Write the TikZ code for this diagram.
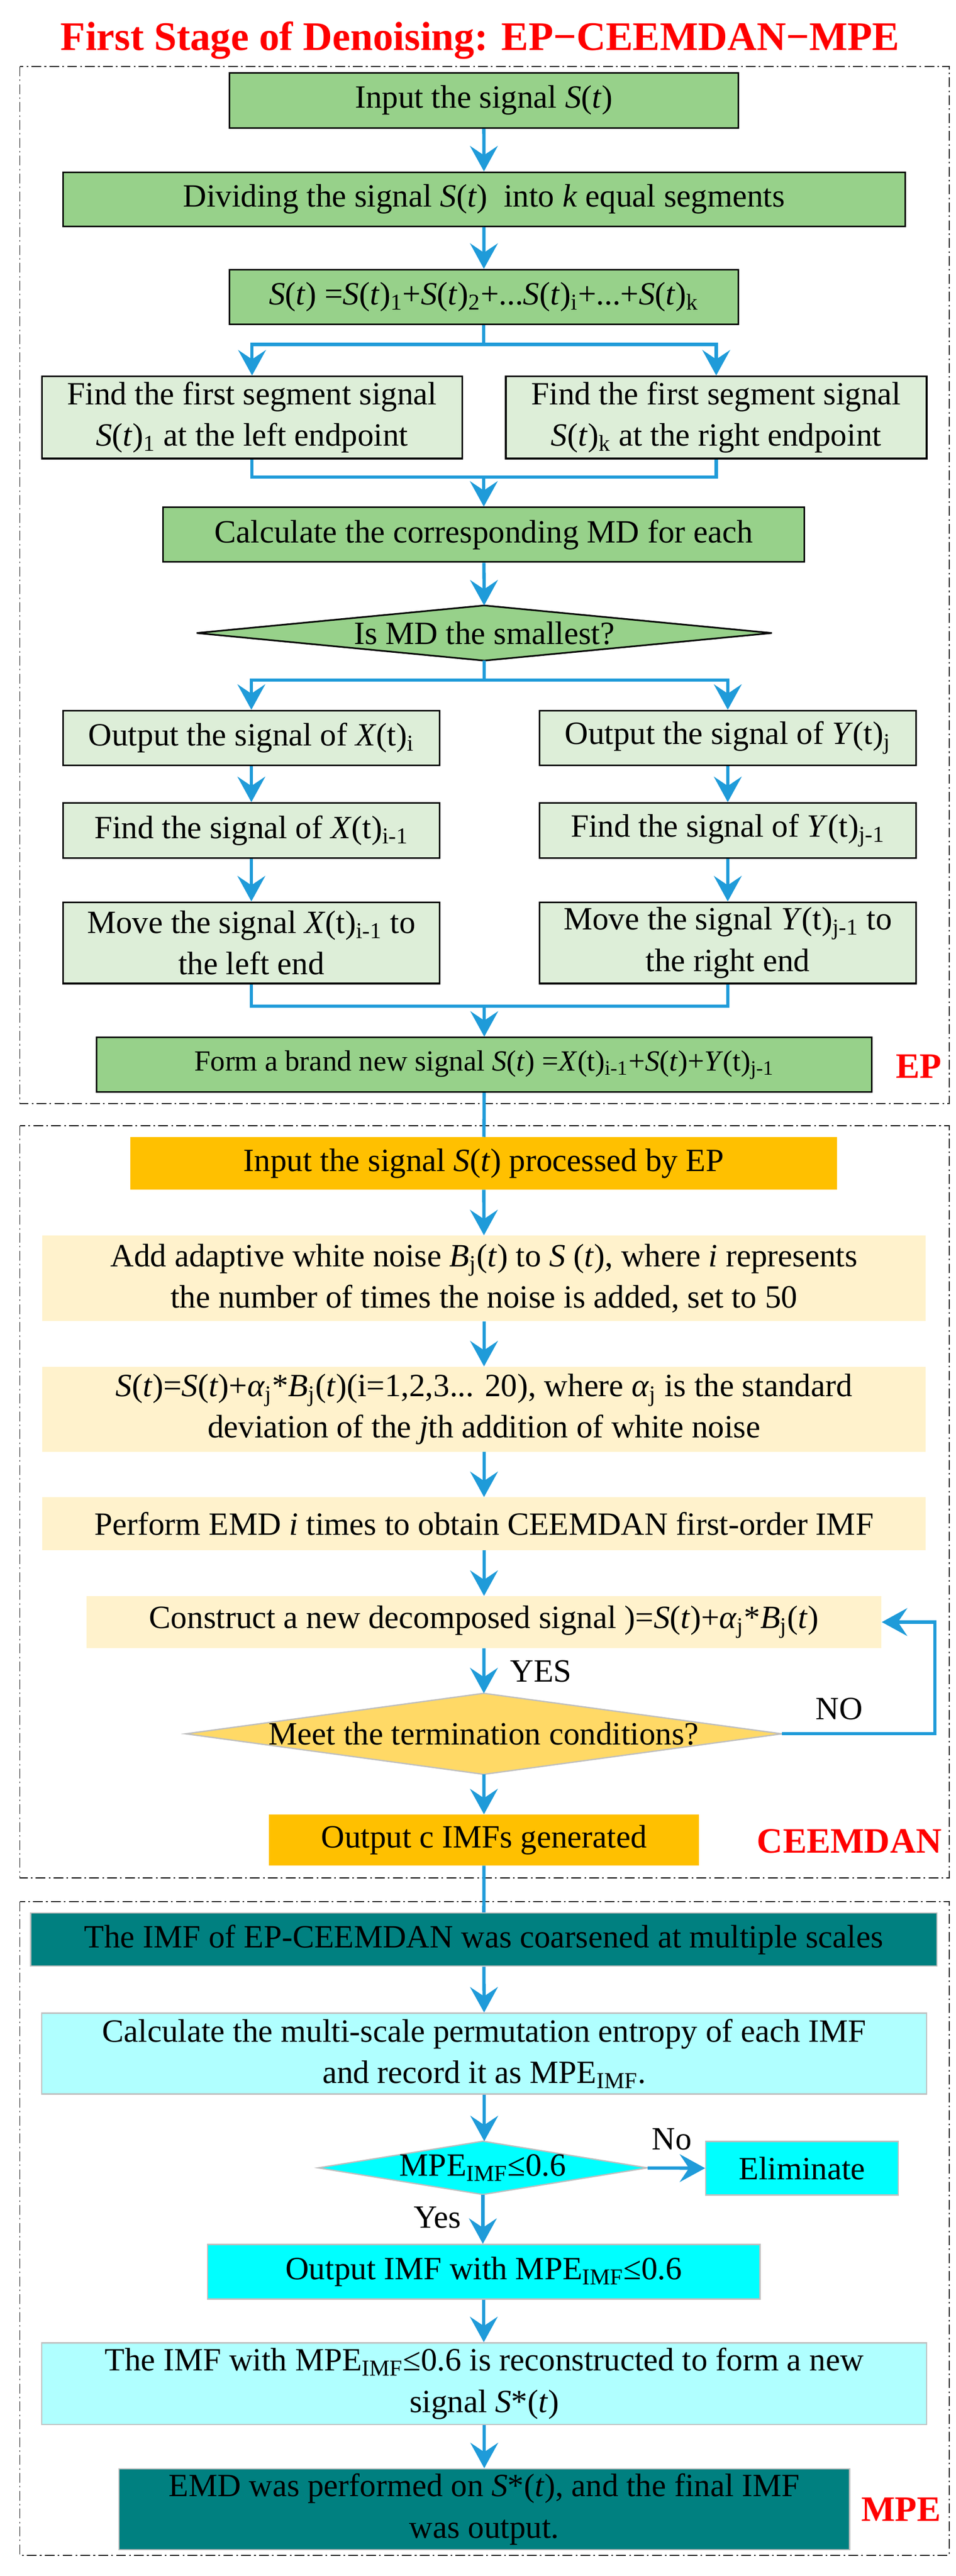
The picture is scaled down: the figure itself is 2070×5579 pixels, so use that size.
\documentclass[tikz,border=0pt]{standalone}
\usepackage{fontspec}
\setmainfont{Liberation Serif}
\usetikzlibrary{shapes.geometric,arrows.meta,backgrounds}
\newcommand\mySt{\textit{S}(\textit{t})}
\newcommand\sbs[1]{\textsubscript{#1}}
\definecolor{gA}{HTML}{97D18A}
\definecolor{gB}{HTML}{DDEED8}
\definecolor{oA}{HTML}{FFC000}
\definecolor{oB}{HTML}{FFF2CC}
\definecolor{oD}{HTML}{FFD966}
\definecolor{tA}{HTML}{008080}
\definecolor{cA}{HTML}{00FFFF}
\definecolor{cB}{HTML}{B0FFFF}
\definecolor{bl}{HTML}{1F9BD9}
\tikzset{
 base/.style={inner sep=0pt,align=center,font=\fontsize{20}{25.5}\selectfont},
 gbox/.style={base,draw=black,line width=1pt,fill=gA},
 lbox/.style={base,draw=black,line width=1pt,fill=gB},
 obox/.style={base,fill=oA},
 ybox/.style={base,fill=oB},
 tbox/.style={base,draw=black!25,line width=0.8pt,fill=tA},
 cbox/.style={base,draw=black!25,line width=0.8pt,fill=cB},
 ccbox/.style={base,draw=black!25,line width=0.8pt,fill=cA},
 dia/.style={base},
 ln/.style={draw=bl,line width=2pt},
 arr/.style={ln,-{Stealth[length=0.55cm,width=0.6cm,inset=0.2cm]}},
 frame/.style={draw=black,line width=0.6pt,dash pattern=on 6pt off 2pt on 1pt off 2pt},
 lab/.style={inner sep=0pt,text=red,font=\fontsize{22}{26}\selectfont\bfseries},
 tx/.style={inner sep=0pt,font=\fontsize{20}{24}\selectfont},
}
\begin{document}
\begin{tikzpicture}[x=0.01cm,y=-0.01cm]
\useasboundingbox (0,0) rectangle (2070,5579);
\node[inner sep=0pt,text=red,font=\fontsize{25}{30}\selectfont\bfseries] (title) at (1040,88) {First Stage of Denoising: EP−CEEMDAN−MPE};
\draw[frame] (43,144) rectangle (2056,2390);
\draw[frame] (43,2438) rectangle (2056,4067);
\draw[frame] (43,4118) rectangle (2056,5534);
% EP
\node[gbox,minimum width=11.02cm,minimum height=1.19cm] (b1) at (1048,217.5) {Input the signal \mySt};
\node[gbox,minimum width=18.23cm,minimum height=1.17cm] (b2) at (1048.5,431.5) {Dividing the signal \mySt\ \ into \textit{k} equal segments};
\node[gbox,minimum width=11.02cm,minimum height=1.18cm] (b3) at (1048,643) {\mySt\ =\mySt\sbs{1}+\mySt\sbs{2}+...\mySt\sbs{i}+...+\mySt\sbs{k}};
\node[lbox,minimum width=9.10cm,minimum height=1.78cm] (b4L) at (546,904) {Find the first segment signal\\\mySt\sbs{1} at the left endpoint};
\node[lbox,minimum width=9.11cm,minimum height=1.78cm] (b4R) at (1551.5,904) {Find the first segment signal\\\mySt\sbs{k} at the right endpoint};
\node[gbox,minimum width=13.88cm,minimum height=1.18cm] (b5) at (1048,1158) {Calculate the corresponding MD for each};
\node[dia,minimum width=12.44cm,minimum height=1.18cm] (d1) at (1049,1371) {Is MD the smallest?};
\node[lbox,minimum width=8.15cm,minimum height=1.18cm] (L1) at (544.5,1598) {Output the signal of \textit{X}(t)\sbs{i}};
\node[lbox,minimum width=8.15cm,minimum height=1.18cm] (R1) at (1576.5,1598) {Output the signal of \textit{Y}(t)\sbs{j}};
\node[lbox,minimum width=8.15cm,minimum height=1.19cm] (L2) at (544.5,1798.5) {Find the signal of \textit{X}(t)\sbs{i-1}};
\node[lbox,minimum width=8.15cm,minimum height=1.19cm] (R2) at (1576.5,1798.5) {Find the signal of \textit{Y}(t)\sbs{j-1}};
\node[lbox,minimum width=8.15cm,minimum height=1.76cm] (L3) at (544.5,2042) {Move the signal \textit{X}(t)\sbs{i-1} to\\the left end};
\node[lbox,minimum width=8.15cm,minimum height=1.76cm] (R3) at (1576.5,2042) {Move the signal \textit{Y}(t)\sbs{j-1} to\\the right end};
\node[gbox,minimum width=16.78cm,minimum height=1.18cm,font=\fontsize{18}{22}\selectfont] (fin) at (1049,2306) {Form a brand new signal \mySt\ =\textit{X}(t)\sbs{i-1}+\mySt+\textit{Y}(t)\sbs{j-1}};
\node[lab] (lEP) at (1990,2309) {EP};
% CEEMDAN
\node[obox,minimum width=15.30cm,minimum height=1.13cm] (c1) at (1048,2519.5) {Input the signal \mySt\ processed by EP};
\node[ybox,minimum width=19.13cm,minimum height=1.85cm] (c2) at (1048.5,2768.5) {Add adaptive white noise \textit{B}\sbs{j}(\textit{t}) to \textit{S} (\textit{t}), where \textit{i} represents\\the number of times the noise is added, set to 50};
\node[ybox,minimum width=19.13cm,minimum height=1.84cm] (c3) at (1048.5,3052) {\mySt=\mySt+\textit{α}\sbs{j}*\textit{B}\sbs{j}(\textit{t})(i=1,2,3... 20), where \textit{α}\sbs{j} is the standard\\deviation of the \textit{j}th addition of white noise};
\node[ybox,minimum width=19.13cm,minimum height=1.14cm] (c4) at (1048.5,3300) {Perform EMD \textit{i} times to obtain CEEMDAN first-order IMF};
\node[ybox,minimum width=17.21cm,minimum height=1.12cm] (c5) at (1048.5,3513) {Construct a new decomposed signal )=\mySt+\textit{α}\sbs{j}*\textit{B}\sbs{j}(\textit{t})};
\node[dia,minimum width=12.90cm,minimum height=1.74cm] (d2) at (1048,3755) {Meet the termination conditions?};
\node[obox,minimum width=9.31cm,minimum height=1.10cm] (c6) at (1048.5,3985) {Output c IMFs generated};
\node[lab] (lCE) at (1840,3988) {CEEMDAN};
\node[tx] (yes) at (1172,3620) {YES};
\node[tx] (no) at (1818,3701) {NO};
% MPE
\node[tbox,minimum width=19.62cm,minimum height=1.15cm] (m1) at (1048,4200.5) {The IMF of EP-CEEMDAN was coarsened at multiple scales};
\node[cbox,minimum width=19.16cm,minimum height=1.75cm] (m2) at (1049,4447.5) {Calculate the multi-scale permutation entropy of each IMF\\and record it as MPE\sbs{IMF}.};
\node[dia,minimum width=7.12cm,minimum height=1.14cm] (d3) at (1046,4695) {MPE\sbs{IMF}≤0.6};
\node[ccbox,minimum width=4.17cm,minimum height=1.16cm] (el) at (1737.5,4696) {Eliminate};
\node[tx] (nn) at (1455,4633) {No};
\node[tx] (yy) at (948,4803) {Yes};
\node[ccbox,minimum width=11.96cm,minimum height=1.18cm] (m3) at (1048,4920) {Output IMF with MPE\sbs{IMF}≤0.6};
\node[cbox,minimum width=19.16cm,minimum height=1.77cm] (m4) at (1049,5162.5) {The IMF with MPE\sbs{IMF}≤0.6 is reconstructed to form a new\\signal \textit{S}*(\textit{t})};
\node[tbox,minimum width=15.82cm,minimum height=1.75cm] (m5) at (1049,5434.5) {EMD was performed on \textit{S}*(\textit{t}), and the final IMF\\was output.};
\node[lab] (lMP) at (1952,5435) {MPE};
\begin{pgfonlayer}{background}
\draw[fill=gA,line width=1pt] (d1.west) -- (d1.north) -- (d1.east) -- (d1.south) -- cycle;
\draw[fill=oD,draw=black!25,line width=0.8pt] (d2.west) -- (d2.north) -- (d2.east) -- (d2.south) -- cycle;
\draw[fill=cA,draw=black!25,line width=0.8pt] (d3.west) -- (d3.north) -- (d3.east) -- (d3.south) -- cycle;
\end{pgfonlayer}
% connectors
\coordinate (s1) at (1048,746);
\coordinate (j1) at (1048,1033);
\coordinate (s2) at (1049,1473);
\coordinate (j2) at (1049,2179);
\draw[arr] (b1) -- (b2);
\draw[arr] (b2) -- (b3);
\draw[ln] (b3.south) -- (s1);
\draw[arr] (s1) -| (b4L.north);
\draw[arr] (s1) -| (b4R.north);
\draw[ln] (b4L.south) |- (j1) -| (b4R.south);
\draw[arr] (j1) -- (b5.north);
\draw[arr] (b5) -- (d1);
\draw[ln] (d1.south) -- (s2);
\draw[arr] (s2) -| (L1.north);
\draw[arr] (s2) -| (R1.north);
\draw[arr] (L1) -- (L2);
\draw[arr] (L2) -- (L3);
\draw[arr] (R1) -- (R2);
\draw[arr] (R2) -- (R3);
\draw[ln] (L3.south) |- (j2) -| (R3.south);
\draw[arr] (j2) -- (fin.north);
\draw[ln] (fin) -- (c1);
\draw[arr] (c1) -- (c2);
\draw[arr] (c2) -- (c3);
\draw[arr] (c3) -- (c4);
\draw[arr] (c4) -- (c5);
\draw[arr] (c5) -- (d2);
\draw[arr] (d2.east) -- ++(331,0) |- (c5.east);
\draw[arr] (d2) -- (c6);
\draw[ln] (c6) -- (m1);
\draw[arr] (m1) -- (m2);
\draw[arr] (m2.south) -- (m2.south |- d3.north);
\draw[arr] (d3) -- (el);
\draw[arr] (d3.south) -- (d3.south |- m3.north);
\draw[arr] (m3.south) -- (m3.south |- m4.north);
\draw[arr] (m4) -- (m5);
\end{tikzpicture}
\end{document}
